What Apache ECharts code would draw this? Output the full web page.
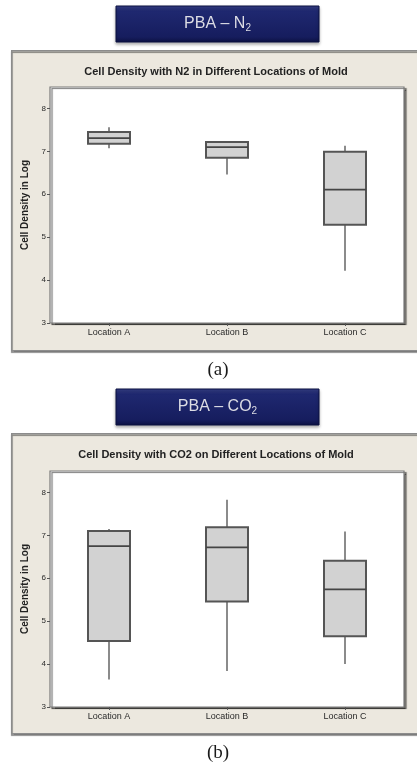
<!DOCTYPE html>
<html>
<head>
<meta charset="utf-8">
<script src="https://cdn.jsdelivr.net/npm/echarts@6/dist/echarts.min.js"></script>
<style>
  html, body { margin: 0; padding: 0; background: #ffffff; }
  #chart { width: 417px; height: 769px; }
</style>
</head>
<body>
<div id="chart"></div>
<script>
// Categories shared by both panels
const categories = ['Location A', 'Location B', 'Location C'];

// Panel (a): PBA with N2 — five-number summaries per location
const n2Min    = [7.07, 6.46, 4.22];
const n2Q1     = [7.18, 6.85, 5.29];
const n2Median = [7.31, 7.10, 6.11];
const n2Q3     = [7.45, 7.22, 6.99];
const n2Max    = [7.56, 7.24, 7.13];

// Panel (b): PBA with CO2 — five-number summaries per location
const co2Min    = [3.64, 3.84, 4.00];
const co2Q1     = [4.54, 5.46, 4.65];
const co2Median = [6.75, 6.72, 5.74];
const co2Q3     = [7.10, 7.19, 6.41];
const co2Max    = [7.15, 7.83, 7.09];

// Value axis range and tick step
const yMin = 3;
const yMax = 8.5;
const yStep = 1;

const titles = [
  'Cell Density with N2 in Different Locations of Mold',
  'Cell Density with CO2 on Different Locations of Mold'
];
const yName = 'Cell Density in Log';

function rows(mins, q1s, meds, q3s, maxs) {
  return categories.map((c, i) => [i, mins[i], q1s[i], meds[i], q3s[i], maxs[i]]);
}

// Box with whisker (no caps), drawn through the axis scales
function renderBox(params, api) {
  const x = api.value(0);
  const pMin = api.coord([x, api.value(1)]);
  const pQ1 = api.coord([x, api.value(2)]);
  const pMed = api.coord([x, api.value(3)]);
  const pQ3 = api.coord([x, api.value(4)]);
  const pMax = api.coord([x, api.value(5)]);
  const half = 21;
  return {
    type: 'group',
    children: [
      { type: 'line', shape: { x1: pMin[0], y1: pMin[1], x2: pMax[0], y2: pMax[1] },
        style: { stroke: '#6e6e6e', lineWidth: 1.6 } },
      { type: 'rect', shape: { x: pQ3[0] - half, y: pQ3[1], width: half * 2, height: pQ1[1] - pQ3[1] },
        style: { fill: '#d2d2d2', stroke: '#555555', lineWidth: 2 } },
      { type: 'line', shape: { x1: pMed[0] - half, y1: pMed[1], x2: pMed[0] + half, y2: pMed[1] },
        style: { stroke: '#454545', lineWidth: 1.8 } }
    ]
  };
}

const font = 'Liberation Sans, Arial, sans-serif';

function panelGraphics(top, label, title, caption) {
  return [
    // panel frame
    { type: 'rect', left: 11, top: top, shape: { width: 410, height: 300 },
      style: { fill: '#ece8df', stroke: '#8c8c8c', lineWidth: 1.5,
               shadowColor: 'rgba(0,0,0,0.45)', shadowOffsetX: 0, shadowOffsetY: 1.5, shadowBlur: 1 },
      z: -10 },
    // banner with centred label
    { type: 'rect', x: 116, y: top - 44, shape: { width: 203, height: 36 },
      style: {
        fill: new echarts.graphic.LinearGradient(0, 0, 0, 1, [
          { offset: 0, color: '#39438c' },
          { offset: 0.15, color: '#1f2870' },
          { offset: 0.85, color: '#161d5e' },
          { offset: 1, color: '#0c1142' }
        ]),
        stroke: '#0b1040', lineWidth: 1,
        shadowColor: 'rgba(0,0,0,0.3)', shadowOffsetY: 2, shadowBlur: 3
      }, z: -5,
      textContent: {
        style: { text: label, rich: {
          m: { fontSize: 16, fontFamily: font, fill: '#dcdce4' },
          s: { fontSize: 10, fontFamily: font, fill: '#dcdce4', padding: [9, 0, 0, 0] }
        } }
      },
      textConfig: { position: 'inside' } },
    // chart title
    { type: 'text', x: 216, y: top + 22, z: 5,
      style: { text: title, align: 'center', verticalAlign: 'middle',
               fontSize: 11, fontWeight: 'bold', fontFamily: font, fill: '#222' } },
    // caption under panel
    { type: 'text', x: 218, y: top + 320, z: 5,
      style: { text: caption, align: 'center', verticalAlign: 'middle',
               fontSize: 19, fontFamily: 'Liberation Serif, DejaVu Serif, serif', fill: '#1a1a1a' } }
  ];
}

function grid(top) {
  return { left: 50, top: top, width: 354, height: 236, show: true,
           backgroundColor: '#ffffff', borderColor: '#7a7a7a', borderWidth: 1.2,
           shadowColor: 'rgba(0,0,0,0.55)', shadowOffsetX: 2, shadowOffsetY: 1.5, shadowBlur: 1 };
}

function xAxis(gi) {
  return { type: 'category', gridIndex: gi, data: categories, boundaryGap: true,
           axisLine: { show: false },
           axisTick: { show: true, alignWithLabel: true, length: 3, lineStyle: { color: '#555' } },
           axisLabel: { fontSize: 9, fontFamily: font, color: '#2a2a2a', margin: 5 },
           splitLine: { show: false } };
}

function yAxis(gi) {
  return { type: 'value', gridIndex: gi, min: yMin, max: yMax, interval: yStep,
           name: yName, nameLocation: 'middle', nameGap: 16, nameRotate: 90,
           nameTextStyle: { fontSize: 10, fontWeight: 'bold', fontFamily: font, color: '#222' },
           axisLine: { show: false },
           axisTick: { show: true, length: 3, lineStyle: { color: '#555' } },
           axisLabel: { fontSize: 8, fontFamily: font, color: '#2a2a2a', margin: 4, showMaxLabel: false,
                        formatter: v => (Number.isInteger(v) ? String(v) : '') },
           splitLine: { show: false } };
}

const chart = echarts.init(document.getElementById('chart'), null, { renderer: 'canvas' });

chart.setOption({
  animation: false,
  backgroundColor: '#ffffff',
  graphic: [
    ...panelGraphics(50, '{m|PBA – N}{s|2}', titles[0], '(a)'),
    ...panelGraphics(433, '{m|PBA – CO}{s|2}', titles[1], '(b)')
  ],
  grid: [grid(87), grid(471)],
  xAxis: [xAxis(0), xAxis(1)],
  yAxis: [yAxis(0), yAxis(1)],
  series: [
    { type: 'custom', xAxisIndex: 0, yAxisIndex: 0, renderItem: renderBox,
      encode: { x: 0, y: [1, 2, 3, 4, 5] },
      data: rows(n2Min, n2Q1, n2Median, n2Q3, n2Max) },
    { type: 'custom', xAxisIndex: 1, yAxisIndex: 1, renderItem: renderBox,
      encode: { x: 0, y: [1, 2, 3, 4, 5] },
      data: rows(co2Min, co2Q1, co2Median, co2Q3, co2Max) }
  ]
});
</script>
</body>
</html>
